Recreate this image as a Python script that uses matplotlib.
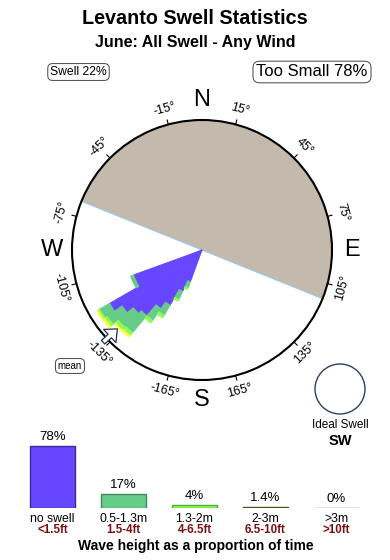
import numpy as np
import matplotlib
matplotlib.use("Agg")
import matplotlib.pyplot as plt
from matplotlib.patches import Ellipse

plt.rcParams['font.family'] = ['Liberation Sans', 'DejaVu Sans']

# ---------------- data ----------------
title = "Levanto Swell Statistics"
subtitle = "June: All Swell - Any Wind"
swell_pct = "Swell 22%"
too_small_pct = "Too Small 78%"
ideal_dir = "SW"

# rose: direction bins (degrees, centre) and stacked frequencies (circle = 100)
dir_centers = [202.5, 207.5, 212.5, 217.5, 222.5, 227.5, 232.5, 237.5, 242.5, 247.5]
freq_blue   = [26, 35, 49, 55, 66, 69, 75, 82, 56, 56]
freq_green  = [5, 7, 9, 11, 17, 15, 14, 9, 2.5, 2.5]
freq_lgreen = [1.5, 1.5, 2.5, 2.5, 3, 3, 2.5, 1.5, 0, 0]
freq_yellow = [0, 0, 0, 0, 1.5, 1, 1.5, 1, 0, 0]
bin_width_deg = 5
mean_dir = 227
shadow_from, shadow_to = 292, 112   # land shadow sector (through north)

tick_angles = [15, 45, 75, 105, 135, 165, -15, -45, -75, -105, -135, -165]

# legend bars
cat_labels = ["no swell", "0.5-1.3m", "1.3-2m", "2-3m", ">3m"]
cat_feet = ["<1.5ft", "1.5-4ft", "4-6.5ft", "6.5-10ft", ">10ft"]
cat_values = [78, 17, 4, 1.4, 0]
cat_value_labels = ["78%", "17%", "4%", "1.4%", "0%"]

# ---------------- style ----------------
C_BLUE = "#6647ff"
C_GREEN = "#66cc88"
C_LGREEN = "#88ff55"
C_YELLOW = "#ffff33"
C_TAN = "#c4b9ad"
bar_face = [C_BLUE, C_GREEN, C_LGREEN, "#556633", "#888888"]
bar_edge = ["#3a2a99", "#3f8a5a", "#55aa33", "#445522", "#777777"]
DARKRED = "#7a1010"

W, H = 390, 560
fig = plt.figure(figsize=(W / 100, H / 100), dpi=100)

def fx(x):
    return x / W

def fy(y):
    return 1 - y / H

# ---------------- rose ----------------
cx, cy, R = 202, 250, 130
ax = fig.add_axes([fx(cx - R), fy(cy + R), 2 * R / W, 2 * R / H], projection='polar')
ax.set_theta_zero_location('N')
ax.set_theta_direction(-1)
ax.set_ylim(0, 100)
ax.grid(False)
ax.set_xticks([])
ax.set_yticks([])
ax.spines['polar'].set_linewidth(1.5)
ax.spines['polar'].set_color('black')

# shadow sector
span = (shadow_to + 360 - shadow_from) % 360
mid = shadow_from + span / 2
ax.bar(np.deg2rad(mid), 100, width=np.deg2rad(span), bottom=0, color=C_TAN,
       edgecolor='none', zorder=1)
for a in (shadow_from, shadow_to):
    ax.plot([np.deg2rad(a)] * 2, [0, 100], color="#9cc8e8", lw=0.8, zorder=2)

th = np.deg2rad(dir_centers)
wd = np.deg2rad(bin_width_deg)
bottom = np.zeros(len(dir_centers))
for vals, col in [(freq_blue, C_BLUE), (freq_green, C_GREEN),
                  (freq_lgreen, C_LGREEN), (freq_yellow, C_YELLOW)]:
    v = np.array(vals, dtype=float)
    m = v > 0
    ax.bar(th[m], v[m], width=wd, bottom=bottom[m], color=col, edgecolor=col,
           linewidth=0.6, zorder=3)
    bottom += v

# ticks & labels
for a in tick_angles:
    t = np.deg2rad(a)
    ax.plot([t, t], [100, 103.5], color='black', lw=0.8, clip_on=False, zorder=5)
    rot = -a
    while rot <= -90:
        rot += 180
    while rot > 90:
        rot -= 180
    ax.text(t, 112, f"{a}°", rotation=rot, rotation_mode='anchor',
            ha='center', va='center', fontsize=9, clip_on=False)

for lab, a in [("N", 0), ("E", 90), ("S", 180), ("W", 270)]:
    ax.text(np.deg2rad(a), 115.5, lab, ha='center', va='center', fontsize=17,
            clip_on=False)

# mean arrow
ax.annotate('', xy=(np.deg2rad(mean_dir), 89), xytext=(np.deg2rad(mean_dir), 104),
            arrowprops=dict(arrowstyle='simple,head_length=0.75,head_width=1.3,tail_width=0.35',
                            fc='white', ec='#1f3050', lw=0.9, shrinkA=0, shrinkB=0),
            annotation_clip=False, zorder=6)

fig.text(fx(70), fy(366), "mean", ha='center', va='center', fontsize=7,
         bbox=dict(boxstyle='round,pad=0.25,rounding_size=0.5', fc='white', ec='#444444', lw=0.7))

# ---------------- header ----------------
fig.text(0.5, fy(18), title, ha='center', va='center', fontsize=14.2, fontweight='bold')
fig.text(0.5, fy(42), subtitle, ha='center', va='center', fontsize=11.5, fontweight='bold')
fig.text(fx(78.5), fy(72), swell_pct, ha='center', va='center', fontsize=8.7,
         bbox=dict(boxstyle='round,pad=0.2,rounding_size=0.4', fc='white', ec='#444444', lw=0.7))
fig.text(fx(312), fy(72), too_small_pct, ha='center', va='center', fontsize=12,
         bbox=dict(boxstyle='round,pad=0.2,rounding_size=0.4', fc='white', ec='#444444', lw=0.7))

# ideal swell
fig.patches.append(Ellipse((fx(340), fy(389)), 50 / W, 50 / H, transform=fig.transFigure,
                           fill=False, ec='#2c4060', lw=1.0))
fig.text(fx(340), fy(425), "Ideal Swell", ha='center', va='center', fontsize=8.5)
fig.text(fx(340), fy(441), ideal_dir, ha='center', va='center', fontsize=10.5, fontweight='bold')

# ---------------- bars ----------------
bx0, step = 52.5, 71
left_px = bx0 - step / 2
bax = fig.add_axes([fx(left_px), fy(508), step * 5 / W, (62 * 100 / 78) / H])
bax.set_xlim(-0.5, 4.5)
bax.set_ylim(0, 100)
bax.axis('off')
xs = np.arange(len(cat_values))
bax.bar(xs, cat_values, width=45 / step, color=bar_face, edgecolor=bar_edge, linewidth=1.0)
for i, (v, lab) in enumerate(zip(cat_values, cat_value_labels)):
    bax.annotate(lab, xy=(i, v), xytext=(0, 6.5), textcoords='offset points',
                 ha='center', va='center', fontsize=9.5)
for i in range(len(cat_labels)):
    x = bx0 + step * i
    fig.text(fx(x), fy(519), cat_labels[i], ha='center', va='center', fontsize=8.8)
    fig.text(fx(x), fy(530), cat_feet[i], ha='center', va='center', fontsize=8.3,
             color=DARKRED, fontweight='bold')
fig.text(fx(196), fy(546), "Wave height as a proportion of time", ha='center', va='center',
         fontsize=10, fontweight='bold')

fig.savefig("out.png", dpi=100)
